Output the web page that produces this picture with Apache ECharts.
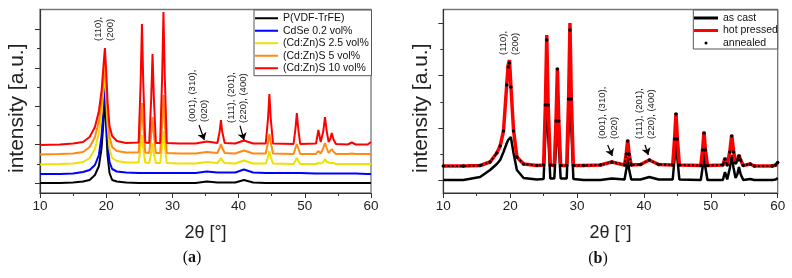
<!DOCTYPE html>
<html>
<head>
<meta charset="utf-8">
<script src="https://cdn.jsdelivr.net/npm/echarts@6/dist/echarts.min.js"></script>
<style>
  html, body { margin: 0; padding: 0; background: #fff; }
  #main { width: 792px; height: 278px; }
</style>
</head>
<body>
<div id="main"></div>
<script>
// ---------------------------------------------- (a) data, 2θ grid shared by all five curves
var xA = [
    10, 13, 15, 16.5, 17.5, 18.3, 18.9, 19.3, 19.6, 19.8, 20.0, 20.2, 20.5, 20.9, 21.6, 23,
    24.9, 25.2, 25.4, 25.6, 25.9,
    26.5, 26.8, 27.0, 27.2, 27.5,
    28.15, 28.45, 28.65, 28.85, 29.15,
    31, 33.5, 35.2,
    36.8, 37.13, 37.33, 37.53, 37.9,
    39.5, 40.8, 42.2,
    44.1, 44.45, 44.65, 44.85, 45.2,
    48.3, 48.6, 48.8, 49.0, 49.3,
    51.7, 52.05, 52.4, 52.8, 53.05, 53.3, 53.6, 53.85, 54.07, 54.3, 54.7,
    56.5, 57.1, 57.7, 59.5, 60
];
var pvdfA = [
    10, 10, 10.5, 11.5, 13, 18, 27, 45, 72, 100, 65, 38, 20, 13, 11.5, 10.5,
    10, 10, 10, 10, 10,
    10, 10, 10, 10, 10,
    10, 10, 10, 10, 10,
    10, 10, 11.5,
    10.5, 10.5, 10.5, 10.5, 10.5,
    10.5, 13, 10.5,
    10, 10, 10, 10, 10,
    10, 10, 10, 10, 10,
    10, 10, 10, 10, 10, 10, 10, 10, 10, 10, 10,
    10, 10, 10, 10, 10
];
var cdseA = [
    19, 19, 19.5, 21, 23, 28, 38, 57, 85, 112, 78, 50, 31, 24, 21.5, 20.5,
    20, 20, 20, 20, 20,
    20, 20, 20, 20, 20,
    20, 20, 20, 20, 20,
    20, 20, 21.5,
    20.5, 20.5, 20.5, 20.5, 20.5,
    20.5, 23.5, 20.5,
    20, 20, 20, 20, 20,
    20, 20, 20, 20, 20,
    19.5, 19.5, 19.5, 19.5, 19.5, 19.5, 19.5, 19.5, 19.5, 19.5, 19.5,
    19.5, 19.5, 19.5, 19, 19
];
var zn25A = [
    28.5, 29, 29.5, 31, 35, 44, 60, 80, 105, 122, 95, 68, 44, 35, 32, 30.5,
    30.5, 45, 58, 45, 30.5,
    30, 40, 50, 40, 30,
    30, 47, 62, 47, 30,
    29.5, 29.5, 31,
    30, 32.5, 35, 32.5, 30,
    29.5, 32.5, 29.5,
    29.5, 36, 42, 36, 29.5,
    29, 32.5, 35, 32.5, 29,
    29, 30, 29.5, 31, 34, 31, 29.5, 30, 31, 30, 29,
    29, 29, 29, 29, 29
];
var zn5A = [
    38.5, 39, 39.5, 41, 46, 56, 72, 92, 115, 132, 108, 80, 56, 46, 42, 40.5,
    40.5, 67, 90, 67, 40.5,
    40, 59, 76, 59, 40,
    40, 70, 98, 70, 40,
    39.5, 39.5, 41,
    40, 45, 49, 45, 40,
    39.5, 42.5, 39.5,
    39.5, 51, 59, 51, 39.5,
    39, 45, 49, 45, 39,
    39, 42, 39.5, 45, 50, 45, 40, 41.5, 44, 41.5, 39,
    39, 39.5, 39, 39, 39
];
var zn10A = [
    48, 48.5, 49.5, 51, 56, 66, 82, 102, 128, 145, 122, 92, 67, 57, 52, 50,
    50.5, 110, 169, 110, 50.5,
    50, 95, 139, 95, 50,
    50, 116, 181, 116, 50,
    49.5, 49.5, 51.5,
    50, 61, 73, 61, 50,
    49.5, 52.5, 49.5,
    49.5, 75, 99, 75, 49.5,
    49, 65, 80, 65, 49,
    49.5, 63, 51, 62, 76, 62, 51, 54, 60, 54, 49,
    48.5, 50.5, 48.5, 48.5, 51
];

// ---------------------------------------------- (b) data
var xB = [
    10, 13, 15.5, 17, 18, 18.5, 19, 19.5, 19.7, 19.9, 20.1, 20.5, 21, 22, 24,
    25.0, 25.27, 25.47, 25.67, 26.0,
    26.6, 26.86, 27.06, 27.26, 27.55,
    28.45, 28.74, 28.94, 29.14, 29.45,
    31, 33.5, 35.2,
    37.1, 37.37, 37.57, 37.77, 38.1,
    39.5, 40.8, 42.2,
    44.3, 44.59, 44.79, 44.99, 45.3,
    48.5, 48.78, 48.98, 49.18, 49.5,
    51.8, 52.12, 52.45, 52.85, 53.12, 53.4, 53.7, 53.98, 54.21, 54.45, 54.85,
    55.9, 56.5, 59.2, 59.7, 60
];
var castB = [
    13, 13, 16, 23, 29, 33, 41, 50, 53, 55, 56, 40, 23, 15, 13.5,
    14, 60, 123, 60, 14.5,
    14.5, 48, 95, 48, 14.5,
    14.5, 64, 133, 64, 14,
    13, 13, 14.5,
    13.5, 24, 36, 24, 13.5,
    13.5, 16, 13.5,
    13.5, 35, 58, 35, 13.5,
    13, 26, 40, 26, 13,
    13, 21, 13.5, 25, 38, 25, 15, 19, 26, 19, 13,
    14, 13, 13, 13.5, 15
];
var pressedB = [
    27, 27, 27.5, 31, 40, 47, 62, 110, 128, 133, 108, 63, 36, 29, 27.5,
    28, 90, 158, 90, 28,
    27.5, 74, 125, 74, 27.5,
    27.5, 96, 170, 96, 27.5,
    27.5, 28, 31,
    28, 40, 53, 40, 28,
    28.5, 33, 28.5,
    28, 55, 80, 55, 28,
    27.5, 44, 61, 44, 27.5,
    28, 35, 28, 42, 58, 42, 30, 33, 38, 33, 27.5,
    29, 27, 27, 28, 30.5
];
var annealedB = [
    27, 27, 27.5, 31, 40, 47, 62, 108, 126, 130, 106, 62, 36, 29, 27.5,
    28, 88, 153, 88, 28,
    27.5, 72, 124, 72, 27.5,
    27.5, 94, 163, 94, 27.5,
    27.5, 28, 31,
    28, 39, 52, 39, 28,
    28.5, 33, 28.5,
    28, 54, 79, 54, 28,
    27.5, 43, 60, 43, 27.5,
    28, 34, 28, 41, 57, 41, 30, 33, 37, 33, 27.5,
    29, 27, 27, 28, 30.5
];

// y ticks (no labels in the original), major / minor
var ticksA = [10, 48.4, 86.8, 125.2, 163.6];
var minorA = [29.2, 67.6, 106, 144.4];
var ticksB = [12.3, 64.8, 117.3, 169.8];
var minorB = [38.5, 91, 143.5];

var namesA = ['P(VDF-TrFE)', 'CdSe 0.2 vol%', '(Cd:Zn)S 2.5 vol%', '(Cd:Zn)S 5 vol%', '(Cd:Zn)S 10 vol%'];
var namesB = ['as cast', 'hot pressed', 'annealed'];

// arrows [x1, y1, x2, y2] in data units
var arrowsA = [[34.02, 68, 34.82, 53], [40.21, 67.3, 40.82, 53]];
var arrowsB = [[34.58, 48, 35.27, 37], [40.16, 48, 40.65, 38]];

!function () {
    var FONT = 'Liberation Sans, Arial, sans-serif';
    var chart = echarts.init(document.getElementById('main'));

    function pairs(xs, ys) {
        return xs.map(function (x, i) { return [x, ys[i]]; });
    }
    function arrowData(list) {
        return list.map(function (a) {
            return [{ coord: [a[0], a[1]] }, { coord: [a[2], a[3]] }];
        });
    }
    function xAxisFor(gi) {
        return {
            gridIndex: gi, type: 'value', min: 10, max: 60, interval: 10,
            axisLine: { onZero: false, lineStyle: { color: '#333', width: 1.2 } },
            axisTick: { length: 5, lineStyle: { color: '#333' } },
            minorTick: { show: true, splitNumber: 2, length: 3, lineStyle: { color: '#333' } },
            axisLabel: { fontSize: 13.5, color: '#222', margin: 6, fontFamily: FONT },
            splitLine: { show: false },
            name: '2θ [°]', nameLocation: 'middle', nameGap: 31,
            nameTextStyle: { fontSize: 18, color: '#222', fontFamily: FONT }
        };
    }
    function yAxisFor(gi, ticks, withName) {
        return {
            gridIndex: gi, type: 'value', position: 'left', min: 0, max: 183.5,
            axisLine: { show: withName, onZero: false, lineStyle: { color: '#333', width: 1.2 } },
            axisTick: { show: true, length: withName ? 5 : 3, customValues: ticks, lineStyle: { color: '#333' } },
            axisLabel: { show: false },
            splitLine: { show: false },
            name: withName ? 'intensity [a.u.]' : '',
            nameLocation: 'middle', nameGap: 12,
            nameTextStyle: { fontSize: 21, color: '#222', fontFamily: FONT, padding: [0, 14, 0, 0] }
        };
    }
    function line(name, xi, xs, ys, color, width) {
        return {
            name: name, type: 'line', xAxisIndex: xi, yAxisIndex: xi * 2,
            data: pairs(xs, ys), showSymbol: false, symbol: 'none',
            lineStyle: { color: color, width: width }, itemStyle: { color: color }
        };
    }
    var arrowStyle = {
        silent: true, symbol: ['none', 'arrow'], symbolSize: 7, animation: false,
        lineStyle: { color: '#000', width: 1.2, type: 'solid' }, label: { show: false }
    };

    var colorsA = ['#000000', '#0000ff', '#f0e000', '#ff8a14', '#ff0000'];
    var seriesA = [pvdfA, cdseA, zn25A, zn5A, zn10A].map(function (ys, i) {
        return line(namesA[i], 0, xA, ys, colorsA[i], 2);
    });
    seriesA[4].markLine = Object.assign({ data: arrowData(arrowsA) }, arrowStyle);

    var seriesB = [
        line(namesB[0], 1, xB, castB, '#000000', 2.5),
        line(namesB[1], 1, xB, pressedB, '#ff0000', 3.5),
        // dense dots of the annealed scan along the flat parts (gaps across the peaks)
        {
            type: 'line', xAxisIndex: 1, yAxisIndex: 2, silent: true, showSymbol: false, symbol: 'none',
            connectNulls: false,
            data: pairs(xB, annealedB.map(function (v) { return v > 40 ? null : v; })),
            lineStyle: { color: '#000', width: 2, type: [2, 2.2] }
        },
        {
            name: namesB[2], type: 'line', xAxisIndex: 1, yAxisIndex: 2,
            data: pairs(xB, annealedB), showSymbol: true, symbol: 'circle', symbolSize: 3.5,
            lineStyle: { width: 0, opacity: 0 },
            itemStyle: { color: '#000', borderWidth: 0 }
        }
    ];
    seriesB[1].markLine = Object.assign({ data: arrowData(arrowsB) }, arrowStyle);

    function note(text, x, y) {
        return {
            type: 'text', x: x, y: y, rotation: Math.PI / 2, z: 10,
            style: {
                text: text, font: '9.5px ' + FONT, fill: '#222',
                lineHeight: 12, align: 'left', verticalAlign: 'top'
            }
        };
    }
    function caption(letter, x, y) {
        return {
            type: 'text', x: x, y: y, z: 10,
            style: {
                text: '{n|(}{b|' + letter + '}{n|)}', align: 'center', verticalAlign: 'middle',
                rich: {
                    n: { fontSize: 16, fontFamily: 'Liberation Serif, serif', fill: '#111' },
                    b: { fontSize: 16, fontFamily: 'Liberation Serif, serif', fontWeight: 'bold', fill: '#111' }
                }
            }
        };
    }

    var option = {
        animation: false,
        grid: [
            { left: 40, right: 421, top: 9.5, bottom: 85, show: true, borderColor: '#777', borderWidth: 1.3 },
            { left: 443.3, right: 14.3, top: 9.5, bottom: 85, show: true, borderColor: '#777', borderWidth: 1.3 }
        ],
        xAxis: [xAxisFor(0), xAxisFor(1)],
        yAxis: [
            yAxisFor(0, ticksA, true), yAxisFor(0, minorA, false),
            yAxisFor(1, ticksB, true), yAxisFor(1, minorB, false)
        ],
        legend: [
            {
                left: 255, top: 12, orient: 'vertical', padding: 0, itemGap: 0,
                itemWidth: 23, itemHeight: 2, icon: 'rect', selectedMode: false,
                itemStyle: { borderWidth: 0 },
                textStyle: { fontSize: 10.5, lineHeight: 12.5, color: '#111', fontFamily: FONT },
                data: namesA
            },
            {
                left: 694, top: 11.75, orient: 'vertical', padding: 0, itemGap: 0,
                itemWidth: 24, itemHeight: 3, selectedMode: false,
                itemStyle: { borderWidth: 0 },
                textStyle: { fontSize: 10.5, lineHeight: 12.5, color: '#111', fontFamily: FONT },
                data: [
                    { name: namesB[0], icon: 'rect' },
                    { name: namesB[1], icon: 'rect' },
                    { name: namesB[2], icon: 'circle' }
                ]
            }
        ],
        graphic: [
            { type: 'rect', z: 3, shape: { x: 254, y: 10, width: 117.5, height: 65.7 },
              style: { fill: '#fff', stroke: '#555', lineWidth: 1 } },
            { type: 'rect', z: 3, shape: { x: 693.3, y: 10, width: 84.4, height: 39 },
              style: { fill: '#fff', stroke: '#555', lineWidth: 1 } },
            note('(110),\n(200)', 92.75, 41),
            note('(001), (310),\n(020)', 186.75, 122),
            note('(111), (201),\n(220), (400)', 225.25, 123),
            note('(110),\n(200)', 497.75, 55),
            note('(001), (310),\n(020)', 596.25, 139),
            note('(111), (201),\n(220), (400)', 633.25, 139),
            caption('a', 192, 258),
            caption('b', 598, 259)
        ],
        series: seriesA.concat(seriesB)
    };
    chart.setOption(option);
}()
</script>
</body>
</html>
